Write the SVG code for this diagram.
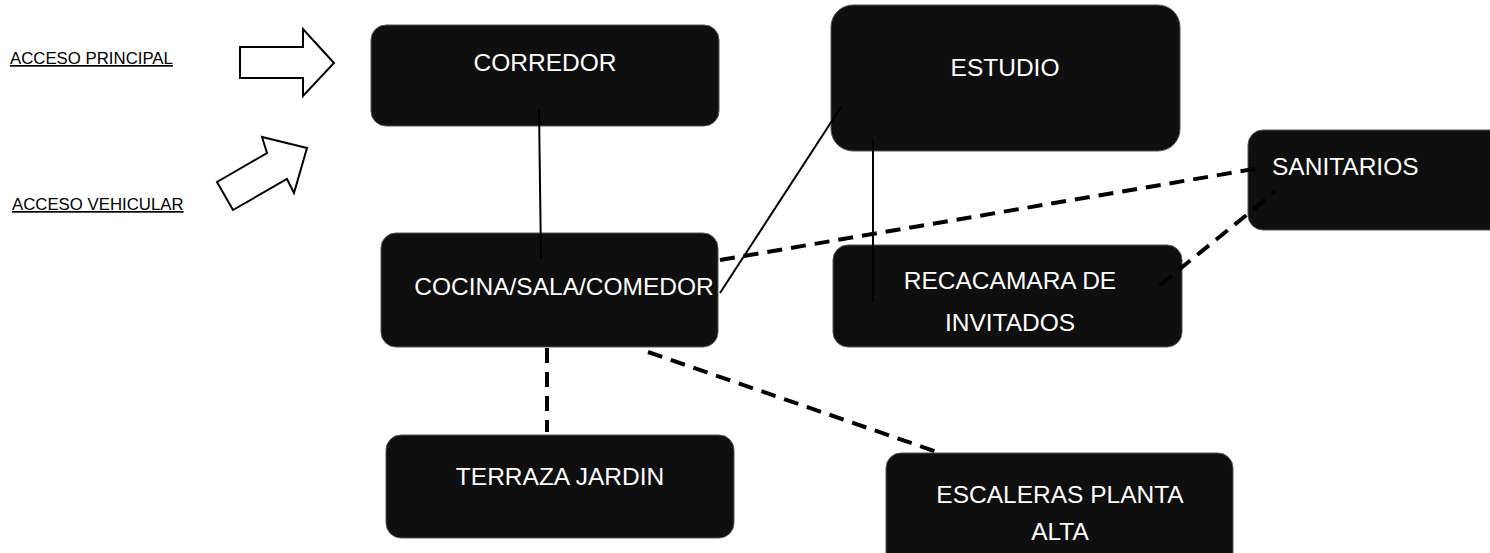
<svg xmlns="http://www.w3.org/2000/svg" width="1490" height="553" viewBox="0 0 1490 553">
<style>
.box{fill:#0f0f0f;stroke:#555;stroke-width:1}
.t{fill:#fff;font-family:"Liberation Sans",Arial,sans-serif;font-size:24.5px}
.lbl{fill:#000;font-family:"Liberation Sans",Arial,sans-serif;font-size:16.8px;text-decoration:underline}
.solid{stroke:#000;stroke-width:2;fill:none}
.dash{stroke:#000;stroke-width:4;fill:none;stroke-dasharray:15 9}
.arr{fill:#fff;stroke:#000;stroke-width:2;stroke-linejoin:miter}
</style>
<rect width="1490" height="553" fill="#fff"/>
<g id="acceso-principal">
<text class="lbl" x="10" y="64">ACCESO PRINCIPAL</text>
<polygon class="arr" points="240,47 303,47 303,29 334,63 303,96 303,78 240,78"/>
</g>
<g id="acceso-vehicular">
<text class="lbl" x="12" y="210">ACCESO VEHICULAR</text>
<polygon class="arr" points="217,182 233,210 287,179 294,193 307,148 262,137 267,153"/>
</g>
<g id="corredor">
<rect class="box" x="371" y="25" width="348" height="101" rx="15"/>
<text class="t" x="545" y="71" text-anchor="middle">CORREDOR</text>
</g>
<g id="estudio">
<rect class="box" x="831" y="5" width="349" height="146" rx="22"/>
<text class="t" x="1005" y="76" text-anchor="middle">ESTUDIO</text>
</g>
<g id="sanitarios">
<rect class="box" x="1248" y="130" width="260" height="100" rx="15"/>
<text class="t" x="1272" y="175">SANITARIOS</text>
</g>
<g id="cocina">
<rect class="box" x="381" y="233" width="337" height="114" rx="15"/>
<text class="t" x="564" y="295" text-anchor="middle">COCINA/SALA/COMEDOR</text>
</g>
<g id="recacamara">
<rect class="box" x="833" y="245" width="349" height="102" rx="15"/>
<text class="t" x="1010" y="289" text-anchor="middle">RECACAMARA DE</text>
<text class="t" x="1010" y="331" text-anchor="middle">INVITADOS</text>
</g>
<g id="terraza">
<rect class="box" x="386" y="435" width="348" height="103" rx="15"/>
<text class="t" x="560" y="485" text-anchor="middle">TERRAZA JARDIN</text>
</g>
<g id="escaleras">
<rect class="box" x="886" y="453" width="347" height="120" rx="15"/>
<text class="t" x="1060" y="503" text-anchor="middle">ESCALERAS PLANTA</text>
<text class="t" x="1060" y="540" text-anchor="middle">ALTA</text>
</g>
<g id="connectors">
<line class="solid" x1="539" y1="110" x2="541" y2="258"/>
<line class="solid" x1="841" y1="107" x2="720" y2="293"/>
<line class="solid" x1="873" y1="140" x2="873" y2="302"/>
<line class="dash" x1="720" y1="260" x2="1260" y2="168"/>
<line class="dash" x1="1160" y1="285" x2="1275" y2="192"/>
<line class="dash" x1="547" y1="348" x2="547" y2="432"/>
<line class="dash" x1="648" y1="352" x2="940" y2="453"/>
</g>
</svg>
